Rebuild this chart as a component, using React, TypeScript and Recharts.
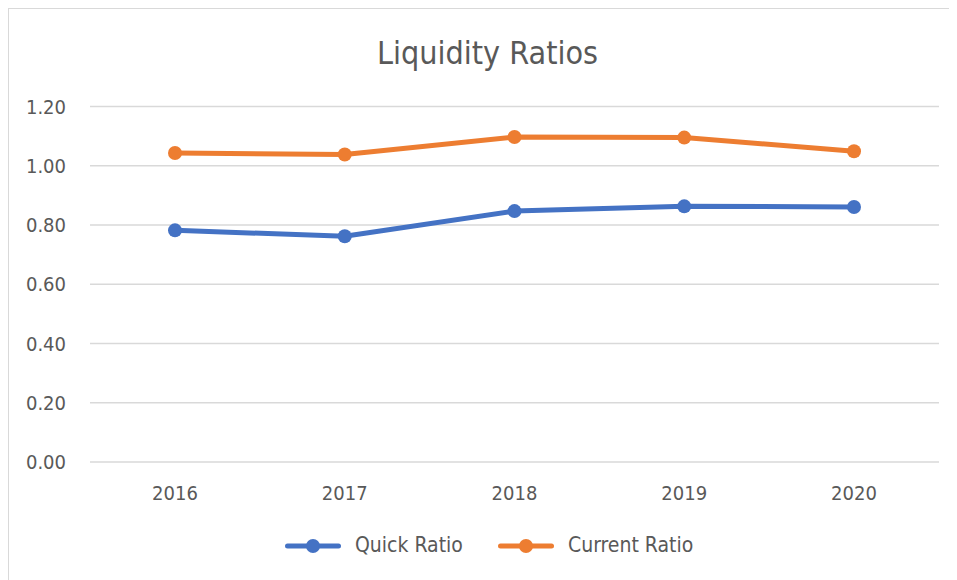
import { LineChart, Line, XAxis, YAxis, CartesianGrid } from 'recharts'

const years = ['2016', '2017', '2018', '2019', '2020']
const quickRatio = [0.782, 0.762, 0.847, 0.863, 0.861]
const currentRatio = [1.043, 1.038, 1.097, 1.095, 1.049]
const yTicks = [0, 0.2, 0.4, 0.6, 0.8, 1.0, 1.2]

const COLORS = {
  quick: '#4472C4',
  current: '#ED7D31',
  grid: '#D9D9D9',
  text: '#595959',
}

const FONT = "'DejaVu Sans Condensed', 'Liberation Sans Narrow', sans-serif"

const data = years.map((year, i) => ({
  year,
  quick: quickRatio[i],
  current: currentRatio[i],
}))

const legendItems = [
  { name: 'Quick Ratio', color: COLORS.quick, iconLeft: 276, textLeft: 346 },
  { name: 'Current Ratio', color: COLORS.current, iconLeft: 489, textLeft: 559 },
]

function App() {
  return (
    <div
      style={{
        position: 'relative',
        margin: '-1px 0 0 -1px',
        width: 950,
        height: 573,
        borderTop: `2px solid ${COLORS.grid}`,
        borderLeft: `2px solid ${COLORS.grid}`,
        boxSizing: 'border-box',
        background: '#fff',
        fontFamily: FONT,
        fontStretch: 'condensed',
      }}
    >
      <div
        style={{
          position: 'absolute',
          left: 0,
          width: 957,
          top: 28,
          textAlign: 'center',
          fontSize: 32,
          lineHeight: 1,
          color: COLORS.text,
          whiteSpace: 'nowrap',
        }}
      >
        Liquidity Ratios
      </div>

      <LineChart width={948} height={571} data={data} margin={{ top: 97.5, right: 18, bottom: 78, left: 0 }}>
        <CartesianGrid vertical={false} stroke={COLORS.grid} strokeWidth={1.5} />
        <XAxis
          dataKey="year"
          axisLine={false}
          tickLine={false}
          tickSize={0}
          tickMargin={24}
          height={40}
          padding={{ left: 85, right: 85 }}
          tick={{ fill: COLORS.text, fontSize: 20, fontFamily: FONT }}
        />
        <YAxis
          domain={[0, 1.2]}
          ticks={yTicks}
          width={81}
          axisLine={false}
          tickLine={false}
          tickSize={0}
          tickMargin={24}
          tickFormatter={(v: number) => v.toFixed(2)}
          tick={{ fill: COLORS.text, fontSize: 20, fontFamily: FONT }}
        />
        <Line
          dataKey="quick"
          stroke={COLORS.quick}
          strokeWidth={5}
          strokeLinecap="round"
          dot={{ r: 7, fill: COLORS.quick, stroke: 'none' }}
          activeDot={false}
          isAnimationActive={false}
        />
        <Line
          dataKey="current"
          stroke={COLORS.current}
          strokeWidth={5}
          strokeLinecap="round"
          dot={{ r: 7, fill: COLORS.current, stroke: 'none' }}
          activeDot={false}
          isAnimationActive={false}
        />
      </LineChart>

      {legendItems.map(item => (
        <div key={item.name}>
          <svg
            width={56}
            height={16}
            style={{ position: 'absolute', left: item.iconLeft, top: 529 }}
          >
            <line x1={2.5} y1={8} x2={53.5} y2={8} stroke={item.color} strokeWidth={5} strokeLinecap="round" />
            <circle cx={28} cy={8} r={7} fill={item.color} />
          </svg>
          <span
            style={{
              position: 'absolute',
              left: item.textLeft,
              top: 525.5,
              fontSize: 21,
              lineHeight: 1,
              color: COLORS.text,
              whiteSpace: 'nowrap',
            }}
          >
            {item.name}
          </span>
        </div>
      ))}
    </div>
  )
}

export default App
